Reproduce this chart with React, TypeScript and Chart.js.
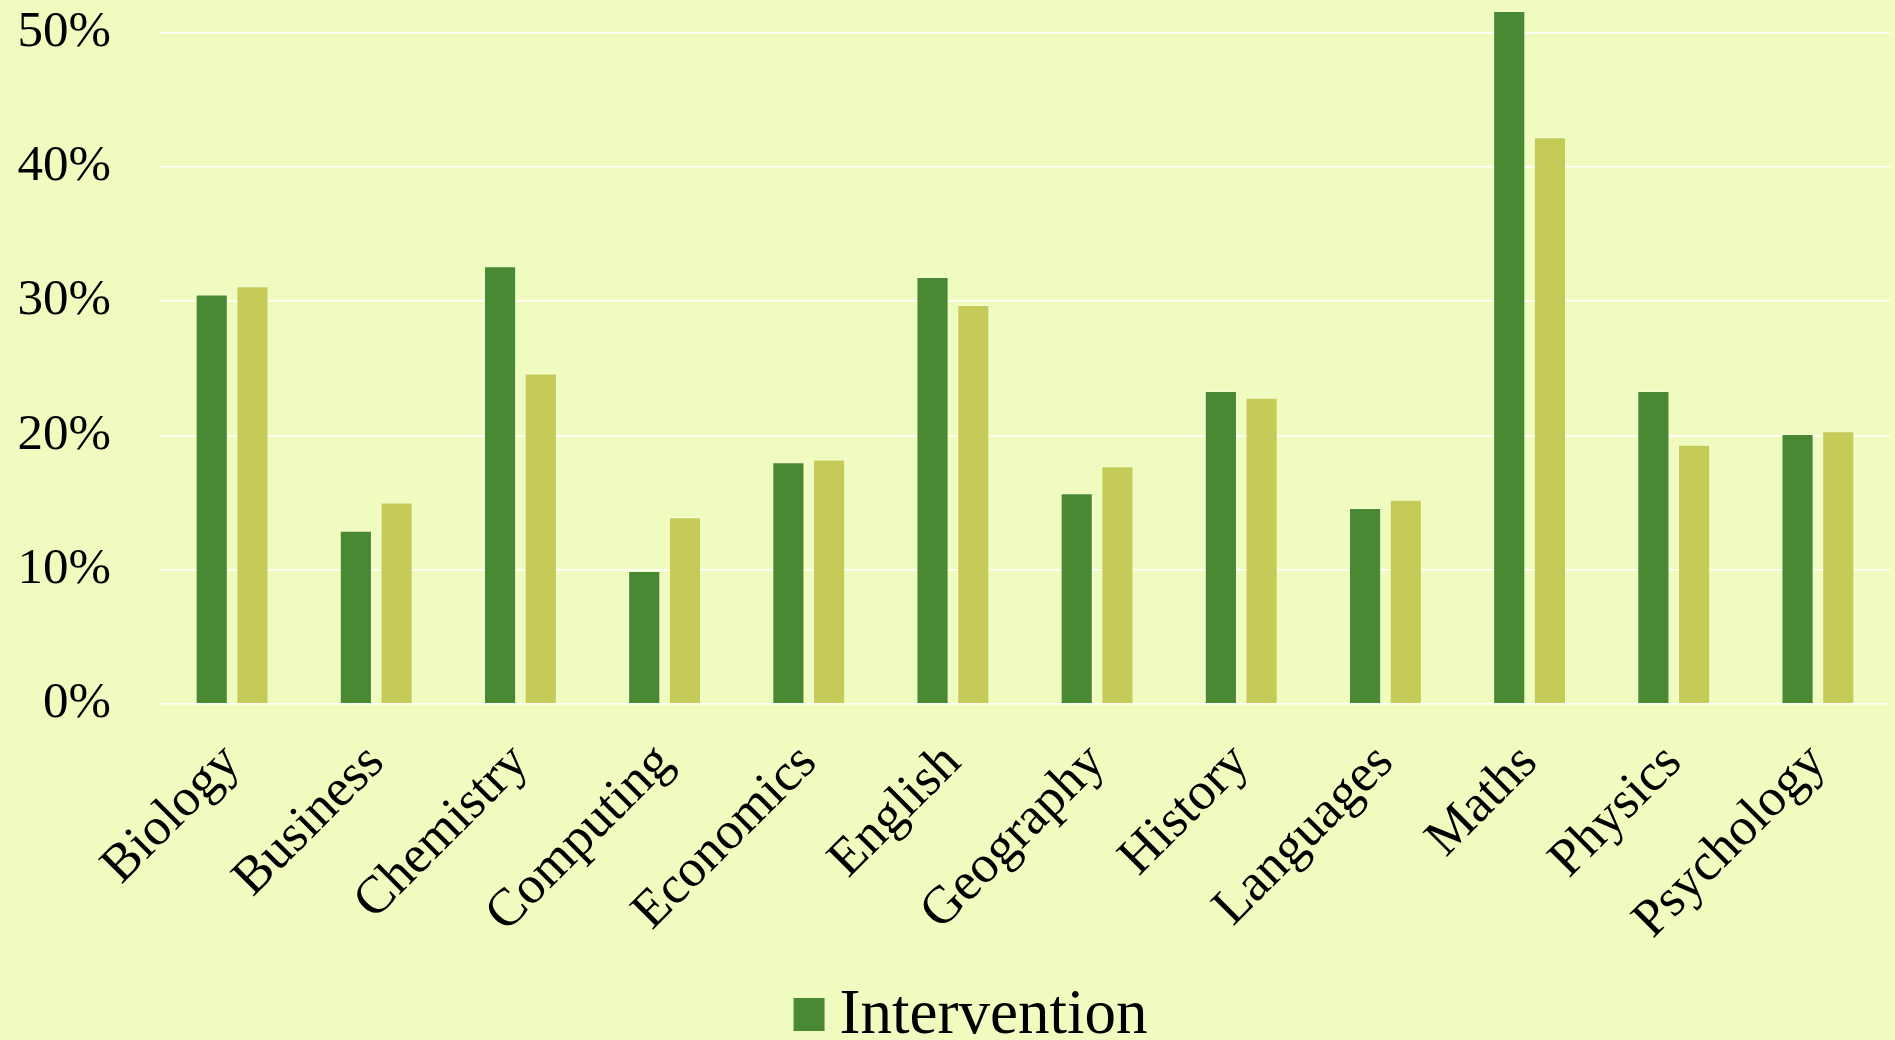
import React, { useEffect, useRef } from "react";
import { Chart, registerables } from "chart.js";

Chart.register(...registerables);

const categories = [
  "Biology", "Business", "Chemistry", "Computing", "Economics", "English",
  "Geography", "History", "Languages", "Maths", "Physics", "Psychology",
];
const interventionValues = [0.305, 0.129, 0.326, 0.099, 0.18, 0.318, 0.157, 0.233, 0.146, 0.516, 0.233, 0.201];
const controlValues = [0.311, 0.15, 0.246, 0.139, 0.182, 0.297, 0.177, 0.228, 0.152, 0.422, 0.193, 0.203];
const seriesLabels = ["Intervention", "Control"];
const yTickValues = [0, 0.1, 0.2, 0.3, 0.4, 0.5];

const BG = "#f0fcbf";
const DARK = "#498934";
const LIGHT = "#c4cb57";
const FONT = '"Liberation Serif", "Times New Roman", serif';

const legendPlugin = {
  id: "customLegend",
  afterDraw(chart: any) {
    const ctx = chart.ctx;
    const ds = chart.data.datasets[0];
    ctx.save();
    ctx.font = `63px ${FONT}`;
    const tw = ctx.measureText(ds.label).width;
    const boxW = 31;
    const boxH = 33;
    const gap = 15;
    const total = boxW + gap + tw;
    const cx = chart.width / 2 + 23;
    const x0 = cx - total / 2;
    const baseline = chart.height - 7;
    ctx.fillStyle = ds.backgroundColor;
    ctx.fillRect(x0, baseline - 35, boxW, boxH);
    ctx.fillStyle = "#000";
    ctx.textBaseline = "alphabetic";
    ctx.textAlign = "left";
    ctx.fillText(ds.label, x0 + boxW + gap, baseline);
    ctx.restore();
  },
};

const bgPlugin = {
  id: "bg",
  beforeDraw(chart: any) {
    const ctx = chart.ctx;
    ctx.save();
    ctx.fillStyle = BG;
    ctx.fillRect(0, 0, chart.width, chart.height);
    ctx.restore();
  },
};

export default function App() {
  const ref = useRef<HTMLCanvasElement | null>(null);
  useEffect(() => {
    if (!ref.current) return;
    const chart = new Chart(ref.current, {
      type: "bar",
      data: {
        labels: categories,
        datasets: [
          {
            label: seriesLabels[0],
            data: interventionValues,
            backgroundColor: DARK,
            borderColor: "rgba(255,255,255,0.35)",
            borderWidth: 1,
            categoryPercentage: 0.565,
            barPercentage: 0.79,
          },
          {
            label: seriesLabels[1],
            data: controlValues,
            backgroundColor: LIGHT,
            borderColor: "rgba(255,255,255,0.35)",
            borderWidth: 1,
            categoryPercentage: 0.565,
            barPercentage: 0.79,
          },
        ],
      },
      options: {
        animation: false,
        responsive: true,
        maintainAspectRatio: false,
        layout: { padding: { top: 0, right: 5, bottom: 0, left: 0 } },
        plugins: {
          legend: { display: false },
          tooltip: { enabled: false },
        },
        scales: {
          x: {
            grid: { display: false },
            border: { display: false },
            ticks: {
              color: "#000",
              font: { family: FONT, size: 53 },
              minRotation: 45,
              maxRotation: 45,
              padding: 20,
              autoSkip: false,
            },
            afterFit(scale: any) {
              scale.height = 336;
            },
          },
          y: {
            min: 0,
            max: 0.524,
            grid: {
              color: "#ffffff",
              lineWidth: 1.5,
              drawTicks: true,
              tickLength: 49,
              tickColor: "rgba(0,0,0,0)",
            },
            border: { display: false },
            ticks: {
              color: "#000",
              font: { family: FONT, size: 51, lineHeight: 0.01 },
              padding: 0,
              stepSize: 0.1,
              callback: (v: any) => `${Math.round(Number(v) * 100)}%`,
            },
            afterBuildTicks(scale: any) {
              scale.ticks = yTickValues.map((v) => ({ value: v }));
            },
            afterFit(scale: any) {
              scale.width = 160;
            },
          },
        },
      },
      plugins: [bgPlugin, legendPlugin],
    });
    return () => chart.destroy();
  }, []);
  return (
    <div style={{ position: "fixed", left: 0, top: 0, width: "100vw", height: "100vh", background: BG }}>
      <canvas ref={ref} />
    </div>
  );
}
